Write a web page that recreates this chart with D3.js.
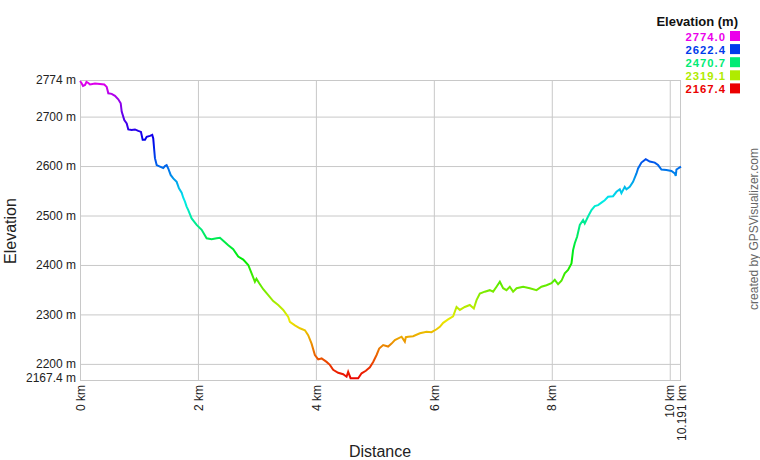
<!DOCTYPE html>
<html><head><meta charset="utf-8">
<script src="https://cdn.jsdelivr.net/npm/d3@7"></script>
<style>
html,body{margin:0;padding:0;background:#fff;}
svg{display:block;font-family:"Liberation Sans",Arial,sans-serif;}
</style></head>
<body>
<svg id="chart" width="760" height="460"></svg>
<script>
// ---- data ----
const distanceKm = [0,0.025,0.051,0.085,0.110,0.141,0.169,0.254,0.339,0.412,0.453,0.480,0.537,0.593,0.649,0.690,0.707,0.751,0.792,0.819,0.876,0.932,0.988,1.034,1.063,1.102,1.131,1.186,1.225,1.242,1.259,1.271,1.300,1.356,1.412,1.441,1.469,1.497,1.537,1.581,1.639,1.678,1.724,1.751,1.780,1.808,1.836,1.893,1.978,2.063,2.147,2.232,2.317,2.373,2.429,2.514,2.598,2.683,2.768,2.853,2.910,2.966,2.992,3.039,3.107,3.192,3.276,3.361,3.446,3.531,3.559,3.644,3.729,3.814,3.869,3.927,3.983,4.039,4.097,4.181,4.237,4.293,4.378,4.463,4.520,4.547,4.588,4.661,4.717,4.775,4.847,4.915,4.971,5.029,5.073,5.141,5.225,5.283,5.339,5.453,5.508,5.525,5.564,5.649,5.763,5.876,5.961,6.046,6.102,6.158,6.242,6.327,6.385,6.441,6.525,6.610,6.678,6.724,6.780,6.864,6.949,7.005,7.063,7.119,7.175,7.232,7.288,7.344,7.403,7.514,7.627,7.741,7.825,7.910,7.995,8.051,8.107,8.164,8.220,8.276,8.334,8.361,8.390,8.429,8.475,8.531,8.559,8.615,8.673,8.729,8.785,8.842,8.898,8.954,9.039,9.097,9.153,9.181,9.237,9.266,9.322,9.378,9.436,9.463,9.520,9.593,9.661,9.746,9.802,9.859,9.944,10.029,10.085,10.102,10.114,10.191];
const elevationM = [2772,2768,2762,2764,2770,2768,2765,2767,2766,2765,2760,2747,2746,2742,2735,2727,2710,2693,2686,2674,2673,2674,2671,2669,2653,2653,2659,2661,2663,2656,2632,2616,2602,2599,2596,2600,2602,2595,2582,2575,2568,2555,2546,2536,2528,2518,2511,2494,2481,2471,2454,2452,2454,2455,2449,2440,2432,2417,2411,2400,2383,2366,2372,2363,2351,2339,2327,2319,2309,2295,2285,2278,2272,2268,2258,2241,2218,2209,2211,2204,2198,2188,2182,2179,2174,2184,2171,2171,2171,2181,2186,2193,2204,2218,2231,2238,2235,2241,2248,2255,2245,2254,2255,2256,2262,2265,2264,2270,2275,2283,2290,2296,2315,2309,2315,2319,2312,2329,2342,2346,2349,2346,2356,2366,2353,2349,2356,2346,2353,2356,2353,2349,2356,2359,2363,2370,2361,2368,2383,2390,2403,2430,2444,2457,2481,2491,2484,2498,2511,2519,2521,2526,2531,2538,2539,2548,2553,2545,2558,2553,2558,2568,2585,2595,2607,2614,2609,2607,2602,2593,2592,2590,2585,2580,2593,2599];
const yTickValues = [2200,2300,2400,2500,2600,2700];
const yEdgeLabels = ["2774 m","2167.4 m"];
const xTickValues = [0,2,4,6,8,10];
const legendValues = [2774.0,2622.4,2470.7,2319.1,2167.4];
const elevMin = 2167.4, elevMax = 2774.0, distMax = 10.191;

// ---- layout ----
const svg = d3.select("#chart");
const L = 80, R = 681, T = 80, B = 380;
const x = d3.scaleLinear().domain([0, distMax]).range([L, R]);
const y = d3.scaleLinear().domain([elevMin, elevMax]).range([B, T]);
const hue = d3.scaleLinear().domain([elevMin, elevMax]).range([0, 300]);
const colorOf = v => d3.hsl(hue(v), 1, 0.46).formatHex();
const grid = "#c8c8c8";

// gridlines via axes
const yAxis = d3.axisLeft(y).tickValues(yTickValues).tickSize(-(R - L)).tickPadding(4).tickFormat(d => d + " m");
const gy = svg.append("g").attr("transform", `translate(${L},0)`).call(yAxis);
gy.select(".domain").remove();
gy.selectAll("line").attr("stroke", grid);
gy.selectAll("text").attr("font-size", 12).attr("fill", "#222").attr("font-family", "Liberation Sans, Arial, sans-serif");

const xAxis = d3.axisBottom(x).tickValues(xTickValues).tickSize(-(B - T)).tickFormat(d => d + " km");
const gx = svg.append("g").attr("transform", `translate(0,${B})`).call(xAxis);
gx.select(".domain").remove();
gx.selectAll("line").attr("stroke", grid);
gx.selectAll("text").attr("font-size", 12).attr("fill", "#222").attr("font-family", "Liberation Sans, Arial, sans-serif")
  .attr("transform", "rotate(-90)").attr("text-anchor", "end").attr("dy", "0.35em").attr("x", -5).attr("y", 0);

// plot border
svg.append("rect").attr("x", L + 0.5).attr("y", T + 0.5).attr("width", R - L - 1).attr("height", B - T)
  .attr("fill", "none").attr("stroke", grid);

// edge labels
svg.append("text").attr("x", L - 4).attr("y", y(elevMax)).attr("dy", "0.35em").attr("text-anchor", "end")
  .attr("font-size", 12).attr("fill", "#222").text(yEdgeLabels[0]);
svg.append("text").attr("x", L - 4).attr("y", y(elevMin) - 2).attr("dy", "0.35em").attr("text-anchor", "end")
  .attr("font-size", 12).attr("fill", "#222").text(yEdgeLabels[1]);
svg.append("text").attr("transform", `translate(${x(distMax) + 1},${B + 5}) rotate(-90)`).attr("dy", "0.35em")
  .attr("text-anchor", "end").attr("font-size", 12).attr("fill", "#222").text(distMax + " km");

// gradient by elevation
const defs = svg.append("defs");
const grad = defs.append("linearGradient").attr("id", "elevGrad").attr("gradientUnits", "userSpaceOnUse")
  .attr("x1", 0).attr("x2", 0).attr("y1", y(elevMin)).attr("y2", y(elevMax));
d3.range(0, 11).forEach(i => {
  const v = elevMin + (elevMax - elevMin) * i / 10;
  grad.append("stop").attr("offset", (i * 10) + "%").attr("stop-color", colorOf(v));
});

const pts = distanceKm.map((d, i) => [d, elevationM[i]]);
svg.append("path").datum(pts)
  .attr("d", d3.line().x(d => x(d[0])).y(d => y(d[1])))
  .attr("fill", "none").attr("stroke", "url(#elevGrad)").attr("stroke-width", 2).attr("stroke-linejoin", "miter");

// axis titles
svg.append("text").attr("x", 380).attr("y", 457).attr("text-anchor", "middle").attr("font-size", 16).attr("fill", "#222").text("Distance");
svg.append("text").attr("transform", "translate(16,231) rotate(-90)").attr("text-anchor", "middle").attr("font-size", 16).attr("fill", "#222").text("Elevation");

// legend
svg.append("text").attr("x", 738).attr("y", 26).attr("text-anchor", "end").attr("font-size", 13).attr("font-weight", "bold").attr("fill", "#111").text("Elevation (m)");
const lg = svg.append("g");
legendValues.forEach((v, i) => {
  const yy = 31 + i * 13.1;
  lg.append("rect").attr("x", 730).attr("y", yy).attr("width", 10).attr("height", 10).attr("fill", colorOf(v));
  lg.append("text").attr("x", 726).attr("y", yy + 9.5).attr("text-anchor", "end").attr("font-size", 11.3)
    .attr("letter-spacing", 1).attr("font-weight", "bold").attr("fill", colorOf(v)).text(v.toFixed(1));
});

// credit
svg.append("text").attr("transform", "translate(758,229) rotate(-90)").attr("text-anchor", "middle")
  .attr("font-size", 12).attr("fill", "#666").text("created by GPSVisualizer.com");
</script>
</body></html>
